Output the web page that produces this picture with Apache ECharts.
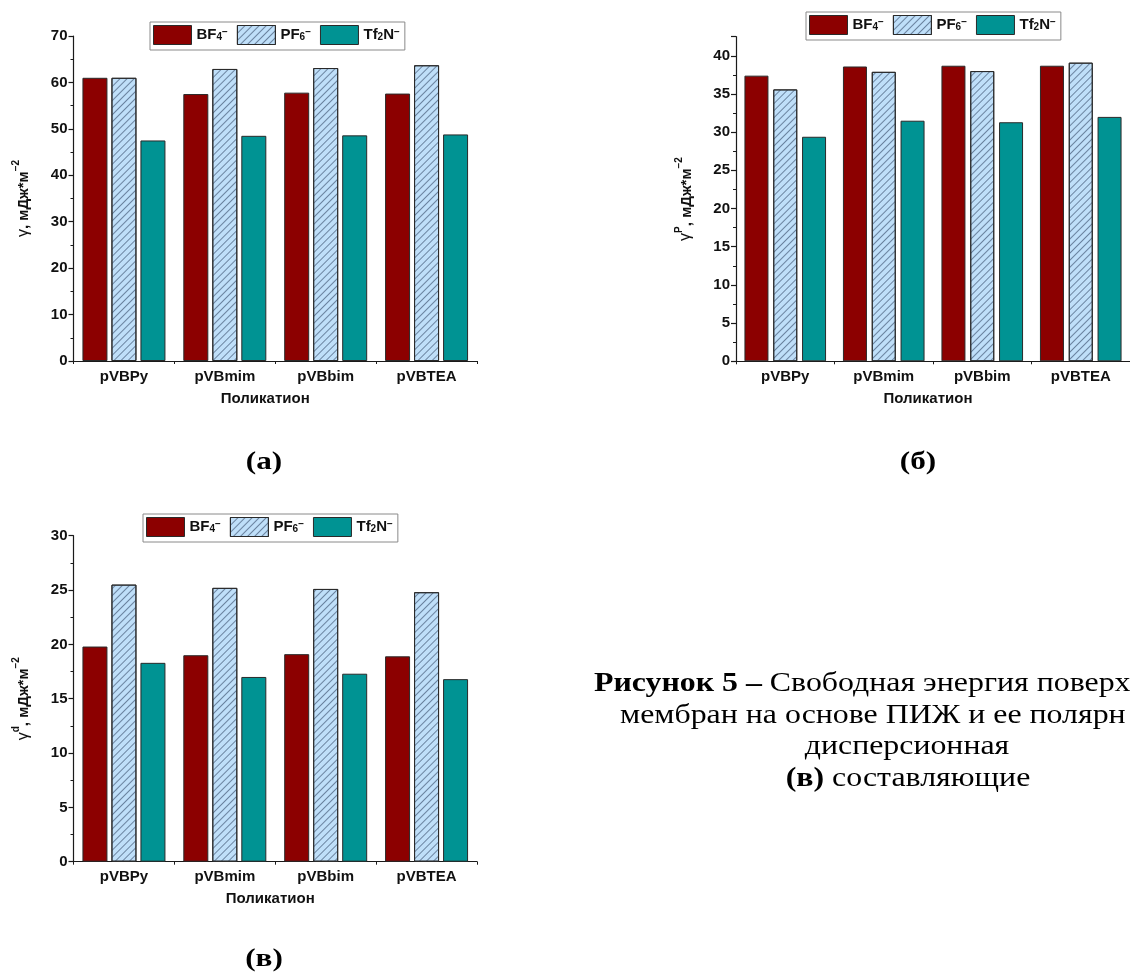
<!DOCTYPE html>
<html>
<head>
<meta charset="utf-8">
<script src="https://cdn.jsdelivr.net/npm/echarts@6/dist/echarts.min.js"></script>
<style>
html,body{margin:0;padding:0;background:#fff;}
#chart{width:1130px;height:975px;}
</style>
</head>
<body>
<div id="chart"></div>
<script>
// ---- data ----
const categories = ['pVBPy', 'pVBmim', 'pVBbim', 'pVBTEA'];
const anions = ['BF₄⁻', 'PF₆⁻', 'Tf₂N⁻'];
const anionRich = ['BF{sub|4}{sup|−}', 'PF{sub|6}{sup|−}', 'Tf{sub|2}N{sup|−}'];

// (а) total surface free energy
const gammaBF4 = [61.0, 57.5, 57.8, 57.6];
const gammaPF6 = [61.0, 62.9, 63.1, 63.7];
const gammaTf2N = [47.5, 48.5, 48.6, 48.8];
// (б) polar component
const polarBF4 = [37.4, 38.6, 38.7, 38.7];
const polarPF6 = [35.6, 37.9, 38.0, 39.1];
const polarTf2N = [29.4, 31.5, 31.3, 32.0];
// (в) dispersion component
const dispBF4 = [19.8, 19.0, 19.1, 18.9];
const dispPF6 = [25.5, 25.2, 25.1, 24.8];
const dispTf2N = [18.3, 17.0, 17.3, 16.8];

const yMax = [70, 42.5, 30];
const yInterval = [10, 5, 5];
const yNames = [
  '{g|γ}{b|, мДж*м}{s|−2}',
  '{g|γ}{s|P}{b|, мДж*м}{s|−2}',
  '{g|γ}{s|d}{b|, мДж*м}{s|−2}'
];
const xName = 'Поликатион';
const panelLabels = ['(а)', '(б)', '(в)'];
const captionLines = [
  '{b|Рисунок 5 –} Свободная энергия поверх',
  'мембран на основе ПИЖ и ее полярн',
  'дисперсионная',
  '{b|(в)} составляющие'
];

const panelData = [
  [gammaBF4, gammaPF6, gammaTf2N],
  [polarBF4, polarPF6, polarTf2N],
  [dispBF4, dispPF6, dispTf2N]
];

// ---- styles ----
const SANS = '"Liberation Sans", Arial, sans-serif';
const SERIF = '"Liberation Serif", "Times New Roman", serif';
const AX = '#1a1a1a';
const colors = ['#8c0000', '#bfdff9', '#009393'];
const hatch = {
  symbol: 'rect', symbolSize: 1,
  dashArrayX: [1, 0], dashArrayY: [1, 4],
  rotation: -Math.PI / 4,
  color: 'rgba(50,70,100,0.6)'
};

const grids = [
  {left: 73.5, top: 36, width: 403.5, height: 325},
  {left: 736, top: 36.7, width: 403, height: 324.6},
  {left: 73.5, top: 535.7, width: 403.5, height: 326}
];
const barW = [25, 24, 25];
const barGapPct = ['16%', '20%', '16%'];
const legendPos = [
  {left: 150, top: 22},
  {left: 806, top: 12},
  {left: 143, top: 514}
];
const nameGapX = [30, 30, 30];

const xAxes = [], yAxes = [], series = [], legends = [];
for (let p = 0; p < 3; p++) {
  xAxes.push({
    type: 'category', gridIndex: p, data: categories,
    axisLine: {lineStyle: {color: AX, width: 1.2}},
    axisTick: {alignWithLabel: true, length: 5, lineStyle: {color: AX, width: 1.2}},
    axisLabel: {color: '#111', fontFamily: SANS, fontWeight: 'bold', fontSize: 15, margin: 8},
    name: xName, nameLocation: 'middle', nameGap: nameGapX[p],
    nameTextStyle: {color: '#111', fontFamily: SANS, fontWeight: 'bold', fontSize: 15,
      padding: p === 0 ? [0, 20, 0, 0] : [0, 10, 0, 0]}
  });
  xAxes.push({
    type: 'category', gridIndex: p, data: categories, position: 'bottom',
    axisLine: {show: false},
    axisTick: {show: true, alignWithLabel: false, length: 3, lineStyle: {color: AX, width: 1}},
    axisLabel: {show: false}
  });
  yAxes.push({
    type: 'value', gridIndex: p, min: 0, max: yMax[p], interval: yInterval[p],
    axisLine: {show: true, lineStyle: {color: AX, width: 1.2}},
    axisTick: {show: true, length: 5, lineStyle: {color: AX, width: 1.2}},
    minorTick: {show: true, splitNumber: 2, length: 3, lineStyle: {color: AX, width: 1}},
    splitLine: {show: false},
    axisLabel: {color: '#111', fontFamily: SANS, fontWeight: 'bold', fontSize: 15, margin: 6,
      formatter: v => (Math.abs(v / yInterval[p] - Math.round(v / yInterval[p])) < 1e-6 ? String(v) : '')},
    name: yNames[p], nameLocation: 'middle', nameGap: 42, nameRotate: 90,
    nameTextStyle: {
      color: '#111',
      rich: {
        g: {fontFamily: SANS, fontSize: 16, fontWeight: 'normal', lineHeight: 20, verticalAlign: 'bottom'},
        b: {fontFamily: SANS, fontSize: 15, fontWeight: 'bold', lineHeight: 20, verticalAlign: 'bottom'},
        s: {fontFamily: SANS, fontSize: 10, fontWeight: 'bold', lineHeight: 10, verticalAlign: 'top'}
      }
    }
  });
  for (let s = 0; s < 3; s++) {
    const itemStyle = {color: colors[s], borderColor: '#2a2a2a', borderWidth: 1};
    if (s === 1) itemStyle.decal = hatch;
    series.push({
      type: 'bar', name: anions[s], xAxisIndex: p * 2, yAxisIndex: p,
      data: panelData[p][s], barWidth: barW[p], barGap: barGapPct[p],
      itemStyle: itemStyle
    });
  }
  legends.push({
    left: legendPos[p].left, top: legendPos[p].top, orient: 'horizontal',
    data: anions, icon: 'rect', itemWidth: 38, itemHeight: 19, itemGap: 9,
    itemStyle: {borderWidth: 1, borderColor: '#2a2a2a'},
    borderColor: '#8a8a8a', borderWidth: 1, padding: [3, 5, 5, 3],
    selectedMode: false,
    formatter: name => anionRich[anions.indexOf(name)],
    textStyle: {
      color: '#111', fontFamily: SANS, fontWeight: 'bold', fontSize: 15,
      rich: {
        sub: {fontFamily: SANS, fontWeight: 'bold', fontSize: 10, lineHeight: 10, verticalAlign: 'bottom'},
        sup: {fontFamily: SANS, fontWeight: 'bold', fontSize: 10, lineHeight: 10, verticalAlign: 'top'}
      }
    }
  });
}

const labelPos = [[264, 462], [918, 462], [264, 959]];
const graphics = [];
for (let i = 0; i < 3; i++) {
  graphics.push({
    type: 'text', x: labelPos[i][0], y: labelPos[i][1], scaleX: 1.2,
    style: {text: panelLabels[i], font: 'bold 26px ' + SERIF, fill: '#000',
      align: 'center', verticalAlign: 'middle'}
  });
}
const capPos = [[594, 684], [620, 716], [907, 747], [908, 779]];
for (let i = 0; i < captionLines.length; i++) {
  graphics.push({
    type: 'text', x: capPos[i][0], y: capPos[i][1], scaleX: 1.18,
    style: {
      text: captionLines[i], font: '27px ' + SERIF, fill: '#000',
      align: i >= 2 ? 'center' : 'left', verticalAlign: 'middle',
      rich: {b: {font: 'bold 27px ' + SERIF, fill: '#000'}}
    }
  });
}

const chart = echarts.init(document.getElementById('chart'), null, {renderer: 'canvas'});
chart.setOption({
  animation: false,
  backgroundColor: '#fff',
  grid: grids,
  xAxis: xAxes,
  yAxis: yAxes,
  legend: legends,
  series: series,
  graphic: graphics
});
</script>
</body>
</html>
